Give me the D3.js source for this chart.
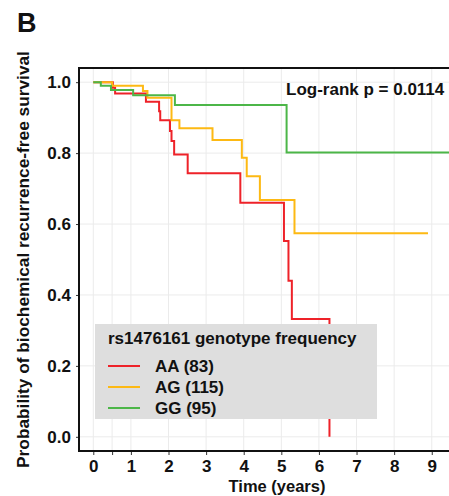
<!DOCTYPE html>
<html>
<head>
<meta charset="utf-8">
<script src="https://cdn.jsdelivr.net/npm/d3@7"></script>
<style>
  html, body { margin: 0; padding: 0; background: #fff; }
  svg { display: block; font-family: "Liberation Sans", Arial, sans-serif; font-weight: bold; }
</style>
</head>
<body>
<div id="chart"></div>
<script>
// Kaplan-Meier steps
const timesAA = [0, 0.52, 0.58, 1.40, 1.75, 1.78, 2.04, 2.08, 2.15, 2.51, 3.91, 5.07, 5.19, 5.28, 6.28];
const survAA  = [1, 0.984, 0.968, 0.945, 0.918, 0.893, 0.862, 0.834, 0.796, 0.743, 0.66, 0.552, 0.44, 0.332, 0];
const timesAG = [0, 0.5, 1.32, 1.44, 2.08, 2.29, 3.17, 3.95, 4.08, 4.43, 5.35, 8.9];
const survAG  = [1, 0.99, 0.975, 0.956, 0.893, 0.87, 0.837, 0.787, 0.735, 0.668, 0.574, 0.574];
const timesGG = [0, 0.2, 0.47, 1.06, 2.17, 5.14, 9.8];
const survGG  = [1, 0.99, 0.978, 0.963, 0.936, 0.802, 0.802];

const groupNames = ["AA (83)", "AG (115)", "GG (95)"];
const groupColors = ["#ee2229", "#fdb913", "#4cb648"];
const xTicks = [0, 0.5, 1, 2, 3, 4, 5, 6, 7, 8, 9];
const yTicks = [0, 0.2, 0.4, 0.6, 0.8, 1.0];

const W = 449, H = 496;
const plot = { left: 79, top: 68, right: 475, bottom: 451 };

const svg = d3.select("#chart").append("svg")
    .attr("width", W)
    .attr("height", H);

const x = d3.scaleLinear().domain([-0.38, 10.15]).range([plot.left, plot.right]);
const y = d3.scaleLinear().domain([-0.04, 1.04]).range([plot.bottom, plot.top]);

// grid
svg.append("g").selectAll("line.gx")
    .data(xTicks)
    .join("line")
    .attr("x1", d => x(d)).attr("x2", d => x(d))
    .attr("y1", plot.top).attr("y2", plot.bottom)
    .attr("stroke", "#ebebeb").attr("stroke-width", 1);
svg.append("g").selectAll("line.gy")
    .data(yTicks)
    .join("line")
    .attr("x1", plot.left).attr("x2", plot.right)
    .attr("y1", d => y(d)).attr("y2", d => y(d))
    .attr("stroke", "#ebebeb").attr("stroke-width", 1);

// curves
const series = [
    { t: timesAA, s: survAA },
    { t: timesAG, s: survAG },
    { t: timesGG, s: survGG }
];
const line = d3.line()
    .x(d => x(d[0]))
    .y(d => y(d[1]))
    .curve(d3.curveStepAfter);

svg.append("g").selectAll("path")
    .data(series)
    .join("path")
    .attr("d", d => line(d.t.map((t, i) => [t, d.s[i]])))
    .attr("fill", "none")
    .attr("stroke", (d, i) => groupColors[i])
    .attr("stroke-width", 2);

// axes
const xAxis = svg.append("g")
    .attr("transform", `translate(0,${plot.bottom})`)
    .call(d3.axisBottom(x).tickValues(xTicks).tickSize(4).tickPadding(5)
        .tickFormat(d => Number.isInteger(d) ? d : ""));
const yAxis = svg.append("g")
    .attr("transform", `translate(${plot.left},0)`)
    .call(d3.axisLeft(y).tickValues(yTicks).tickSize(3).tickPadding(5)
        .tickFormat(d3.format(".1f")));

[xAxis, yAxis].forEach(g => {
    g.select(".domain").remove();
    g.selectAll(".tick line").attr("stroke", "#333").attr("stroke-width", 1);
    g.selectAll("text")
        .attr("fill", "#111")
        .style("font-size", "17px")
        .style("font-weight", "bold")
        .style("font-family", "'Liberation Sans', Arial, sans-serif");
});

// panel frame (left, top, bottom)
svg.append("path")
    .attr("d", `M${plot.right},${plot.top}H${plot.left}V${plot.bottom}H${plot.right}`)
    .attr("fill", "none")
    .attr("stroke", "#111")
    .attr("stroke-width", 2);

// titles
svg.append("text")
    .attr("x", 17).attr("y", 32)
    .style("font-size", "27px")
    .attr("fill", "#111")
    .text("B");

svg.append("text")
    .attr("transform", `translate(29,${(plot.top + plot.bottom) / 2}) rotate(-90)`)
    .attr("text-anchor", "middle")
    .style("font-size", "17.3px")
    .attr("fill", "#111")
    .text("Probability of biochemical recurrence-free survival");

svg.append("text")
    .attr("x", 277).attr("y", 492)
    .attr("text-anchor", "middle")
    .style("font-size", "16.5px")
    .attr("fill", "#111")
    .text("Time (years)");

svg.append("text")
    .attr("x", 286).attr("y", 95)
    .style("font-size", "17px")
    .attr("fill", "#111")
    .text("Log-rank p = 0.0114");

// legend
const legend = svg.append("g").attr("transform", "translate(95,324)");
legend.append("rect")
    .attr("width", 282).attr("height", 95)
    .attr("fill", "#dedede");
legend.append("text")
    .attr("x", 13).attr("y", 20)
    .style("font-size", "17px")
    .attr("fill", "#111")
    .text("rs1476161 genotype frequency");
const items = legend.selectAll("g.item")
    .data(groupNames)
    .join("g")
    .attr("transform", (d, i) => `translate(0,${42 + i * 21})`);
items.append("line")
    .attr("x1", 13).attr("x2", 45)
    .attr("stroke", (d, i) => groupColors[i])
    .attr("stroke-width", 2);
items.append("text")
    .attr("x", 60).attr("y", 6)
    .style("font-size", "17px")
    .attr("fill", "#111")
    .text(d => d);
</script>
</body>
</html>
